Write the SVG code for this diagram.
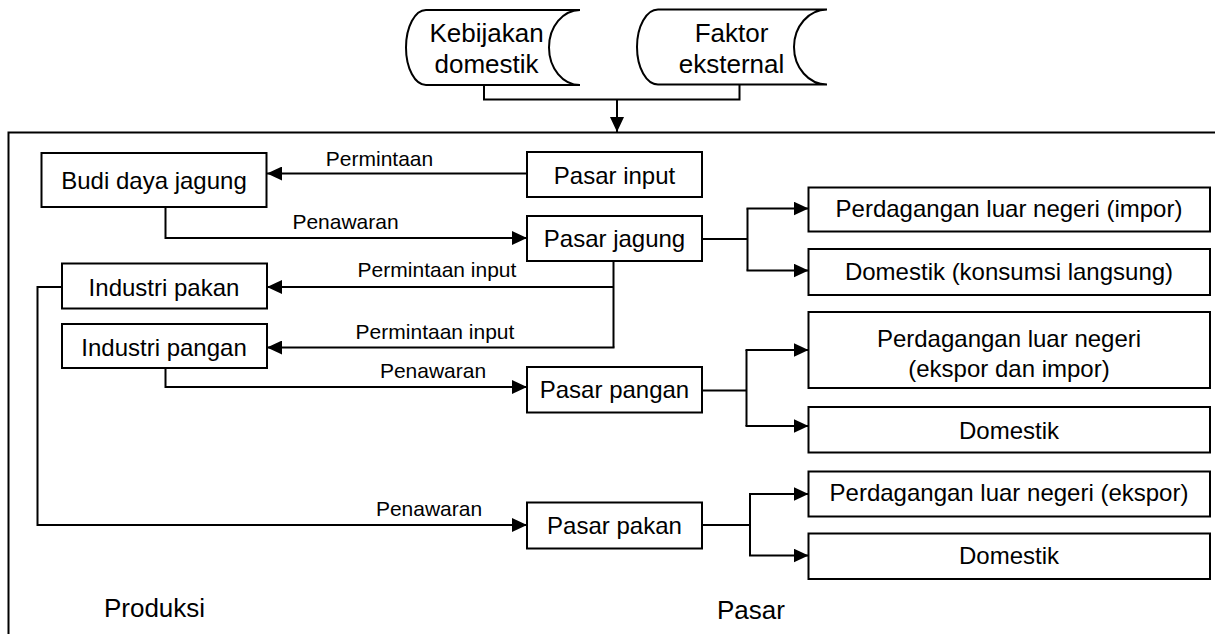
<svg xmlns="http://www.w3.org/2000/svg" width="1215" height="634" viewBox="0 0 1215 634">
  <defs>
    <marker id="arr" markerUnits="userSpaceOnUse" markerWidth="16" markerHeight="14" refX="15" refY="7" orient="auto">
      <path d="M0,0 L15,7 L0,14 Z" fill="#000"/>
    </marker>
    <style>
      .box { fill: #fff; stroke: #000; stroke-width: 2; }
      .ln { fill: none; stroke: #000; stroke-width: 2; }
      .ar { fill: none; stroke: #000; stroke-width: 2; marker-end: url(#arr); }
      text { font-family: "Liberation Sans", Arial, sans-serif; fill: #000; text-anchor: middle; }
      .t { font-size: 24px; }
      .tt { font-size: 26px; }
      .lb { font-size: 21px; }
    </style>
  </defs>

  <rect width="1215" height="634" fill="#fff"/>

  <!-- outer frame -->
  <g id="frame">
    <path class="ln" d="M1217,132.5 H8.5 V640"/>
    <text class="tt" x="154.5" y="617">Produksi</text>
    <text class="tt" x="751" y="619">Pasar</text>
  </g>

  <!-- top stored-data nodes -->
  <g id="kebijakan">
    <path class="box" d="M426,10 A20,37.5 0 0 0 426,85 H580 A31,37.5 0 0 1 580,10 Z"/>
    <text class="tt" x="486.5" y="42">Kebijakan</text>
    <text class="tt" x="486.5" y="73">domestik</text>
  </g>
  <g id="faktor">
    <path class="box" d="M658,9.5 A21,37.5 0 0 0 658,84.5 H827 A33,37.5 0 0 1 827,9.5 Z"/>
    <text class="tt" x="731.5" y="42">Faktor</text>
    <text class="tt" x="731.5" y="73">eksternal</text>
  </g>

  <!-- connectors -->
  <g id="connectors">
    <path class="ln" d="M484,85 V99.5 H739.5 V84.5"/>
    <path class="ar" d="M617,99.5 V132"/>

    <path class="ar" d="M527,173.5 H267"/>
    <text class="lb" x="379.5" y="166">Permintaan</text>

    <path class="ar" d="M165.5,207 V238 H527"/>
    <text class="lb" x="345.5" y="229">Penawaran</text>

    <path class="ln" d="M613.5,261 V347.5"/>
    <path class="ar" d="M613.5,287 H267"/>
    <path class="ar" d="M614.5,347.5 H267"/>
    <text class="lb" x="437" y="277">Permintaan input</text>
    <text class="lb" x="435" y="338.5">Permintaan input</text>

    <path class="ar" d="M165.5,368 V387 H527"/>
    <text class="lb" x="433" y="378">Penawaran</text>

    <path class="ar" d="M62,287 H37.5 V525 H527"/>
    <text class="lb" x="429" y="516">Penawaran</text>

    <path class="ln" d="M702,239 H747.5"/>
    <path class="ln" d="M747.5,208.5 V270.5"/>
    <path class="ar" d="M746.5,208.5 H808.5"/>
    <path class="ar" d="M746.5,270.5 H808.5"/>

    <path class="ln" d="M702,390.5 H746.5"/>
    <path class="ln" d="M746.5,350 V426"/>
    <path class="ar" d="M745.5,350 H808.5"/>
    <path class="ar" d="M745.5,426 H808.5"/>

    <path class="ln" d="M702,525 H750"/>
    <path class="ln" d="M750,494 V555.5"/>
    <path class="ar" d="M749,494 H808.5"/>
    <path class="ar" d="M749,555.5 H808.5"/>
  </g>

  <!-- production nodes -->
  <g id="budidaya">
    <rect class="box" x="41.5" y="153" width="225" height="54"/>
    <text class="t" x="154" y="188.5">Budi daya jagung</text>
  </g>
  <g id="industri-pakan">
    <rect class="box" x="62" y="263.5" width="205" height="45"/>
    <text class="t" x="164" y="295.5">Industri pakan</text>
  </g>
  <g id="industri-pangan">
    <rect class="box" x="62" y="324" width="205" height="44"/>
    <text class="t" x="164" y="355.5">Industri pangan</text>
  </g>

  <!-- market nodes -->
  <g id="pasar-input">
    <rect class="box" x="527" y="152" width="175" height="45"/>
    <text class="t" x="614.5" y="183.5">Pasar input</text>
  </g>
  <g id="pasar-jagung">
    <rect class="box" x="527" y="216" width="175" height="45"/>
    <text class="t" x="614.5" y="247">Pasar jagung</text>
  </g>
  <g id="pasar-pangan">
    <rect class="box" x="527" y="367" width="175" height="45.5"/>
    <text class="t" x="614.5" y="397.5">Pasar pangan</text>
  </g>
  <g id="pasar-pakan">
    <rect class="box" x="527" y="502.5" width="175" height="46"/>
    <text class="t" x="614.5" y="534">Pasar pakan</text>
  </g>

  <!-- destination nodes -->
  <g id="jagung-impor">
    <rect class="box" x="808.5" y="187.5" width="401.5" height="44"/>
    <text class="t" x="1009" y="217">Perdagangan luar negeri (impor)</text>
  </g>
  <g id="jagung-domestik">
    <rect class="box" x="808.5" y="249" width="401.5" height="46"/>
    <text class="t" x="1009" y="280">Domestik (konsumsi langsung)</text>
  </g>
  <g id="pangan-ekspor-impor">
    <rect class="box" x="808.5" y="312" width="401.5" height="76"/>
    <text class="t" x="1009" y="347">Perdagangan luar negeri</text>
    <text class="t" x="1009" y="377">(ekspor dan impor)</text>
  </g>
  <g id="pangan-domestik">
    <rect class="box" x="808.5" y="407" width="401.5" height="45.5"/>
    <text class="t" x="1009" y="438.5">Domestik</text>
  </g>
  <g id="pakan-ekspor">
    <rect class="box" x="808.5" y="471.5" width="401.5" height="45"/>
    <text class="t" x="1009" y="501">Perdagangan luar negeri (ekspor)</text>
  </g>
  <g id="pakan-domestik">
    <rect class="box" x="808.5" y="533.5" width="401.5" height="45.5"/>
    <text class="t" x="1009" y="564">Domestik</text>
  </g>
</svg>
